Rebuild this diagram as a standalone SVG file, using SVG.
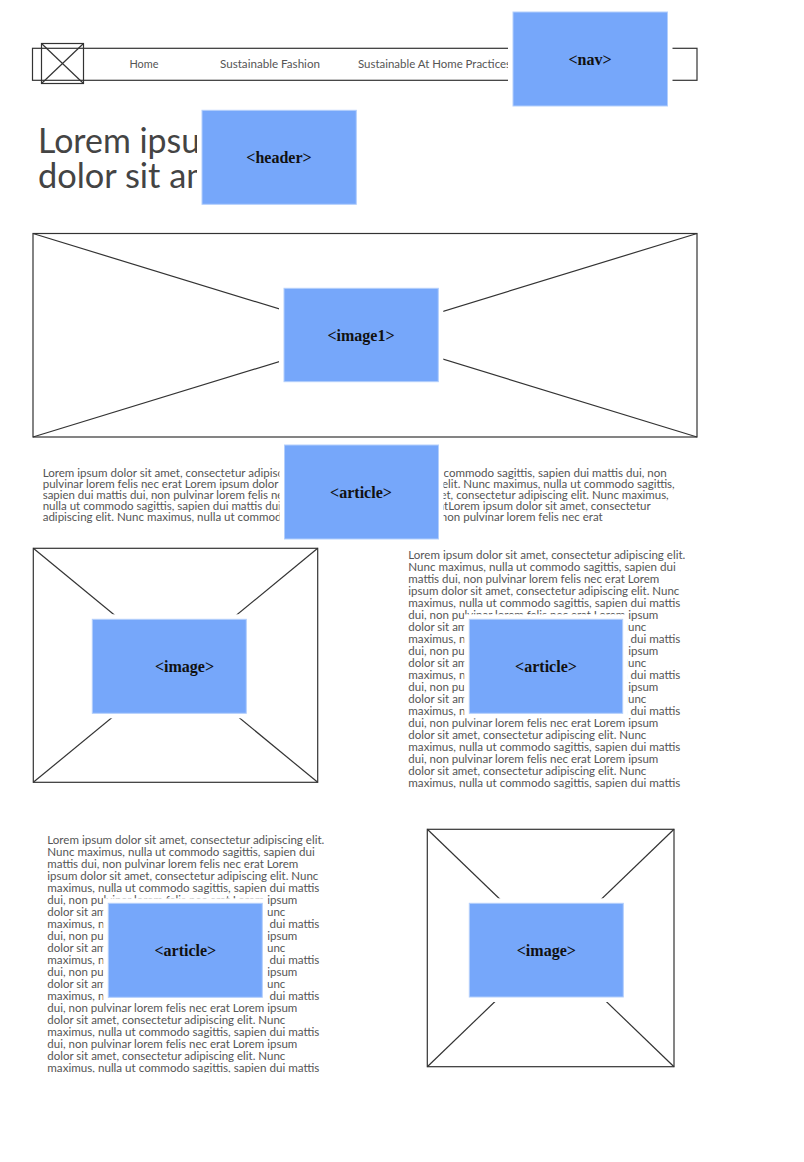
<svg xmlns="http://www.w3.org/2000/svg" width="804" height="1162" viewBox="0 0 804 1162">
<style>
.wire{fill:none;stroke:#333;stroke-width:1.2}
.halo{fill:#fff}
.box{fill:#76a7fa;stroke:#b3cffc;stroke-width:1}
.lbl{font-family:"Liberation Serif",serif;font-weight:bold;font-size:16px;fill:#111;text-anchor:middle}
.body{font-family:Lato,"Noto Sans",sans-serif;font-size:11.5px;fill:#555}
.navt{font-family:Lato,"Noto Sans",sans-serif;font-size:11px;fill:#555}
.title{font-family:Lato,"Noto Sans",sans-serif;font-size:35px;fill:#444}
</style>
<defs>
<clipPath id="clipR"><rect x="400" y="540" width="300" height="248.5"/></clipPath>
<clipPath id="clipL"><rect x="40" y="825" width="300" height="247.5"/></clipPath>
</defs>
<rect width="804" height="1162" fill="#fff"/>

<g id="navbar">
<rect class="wire" x="32.5" y="48.3" width="664.5" height="32"/>
<rect class="wire" x="41.5" y="43.5" width="42" height="40"/>
<line class="wire" x1="41.5" y1="43.5" x2="83.5" y2="83.5"/>
<line class="wire" x1="83.5" y1="43.5" x2="41.5" y2="83.5"/>
<text class="navt" x="129.4" y="68" textLength="29" lengthAdjust="spacingAndGlyphs">Home</text>
<text class="navt" x="220" y="68" textLength="100" lengthAdjust="spacingAndGlyphs">Sustainable Fashion</text>
<text class="navt" x="358" y="68" textLength="153" lengthAdjust="spacingAndGlyphs">Sustainable At Home Practices</text>
</g>

<g id="title">
<text class="title" x="38" y="153" textLength="190" lengthAdjust="spacingAndGlyphs">Lorem ipsum</text>
<text class="title" x="38" y="188.3" textLength="207" lengthAdjust="spacingAndGlyphs">dolor sit amet</text>
</g>

<g id="image1-frame">
<rect class="wire" x="33" y="233.5" width="664" height="203.5"/>
<line class="wire" x1="33" y1="233.5" x2="697" y2="437"/>
<line class="wire" x1="697" y1="233.5" x2="33" y2="437"/>
</g>

<g id="article-top-text" class="body">
<text x="42.7" y="476.5" textLength="624" lengthAdjust="spacingAndGlyphs">Lorem ipsum dolor sit amet, consectetur adipiscing elit. Nunc maximus, nulla ut commodo sagittis, sapien dui mattis dui, non</text>
<text x="42.7" y="487.5" textLength="632" lengthAdjust="spacingAndGlyphs">pulvinar lorem felis nec erat Lorem ipsum dolor sit amet, consectetur adipiscing elit. Nunc maximus, nulla ut commodo sagittis,</text>
<text x="42.7" y="498.5" textLength="626" lengthAdjust="spacingAndGlyphs">sapien dui mattis dui, non pulvinar lorem felis nec erat Lorem ipsum dolor sit amet, consectetur adipiscing elit. Nunc maximus,</text>
<text x="42.7" y="509.5" textLength="608" lengthAdjust="spacingAndGlyphs">nulla ut commodo sagittis, sapien dui mattis dui, non pulvinar lorem felis nec eratLorem ipsum dolor sit amet, consectetur</text>
<text x="42.7" y="520.5" textLength="560" lengthAdjust="spacingAndGlyphs">adipiscing elit. Nunc maximus, nulla ut commodo sagittis, sapien dui mattis dui, non pulvinar lorem felis nec erat</text>
</g>

<g id="image-left-frame">
<rect class="wire" x="33.3" y="548.3" width="284.4" height="234"/>
<line class="wire" x1="33.3" y1="548.3" x2="317.7" y2="782.3"/>
<line class="wire" x1="317.7" y1="548.3" x2="33.3" y2="782.3"/>
</g>

<g id="article-right-text" class="body" clip-path="url(#clipR)">
<text x="408.3" y="559" textLength="277" lengthAdjust="spacingAndGlyphs">Lorem ipsum dolor sit amet, consectetur adipiscing elit.</text>
<text x="408.3" y="571" textLength="267.5" lengthAdjust="spacingAndGlyphs">Nunc maximus, nulla ut commodo sagittis, sapien dui</text>
<text x="408.3" y="583" textLength="251" lengthAdjust="spacingAndGlyphs">mattis dui, non pulvinar lorem felis nec erat Lorem</text>
<text x="408.3" y="595" textLength="271" lengthAdjust="spacingAndGlyphs">ipsum dolor sit amet, consectetur adipiscing elit. Nunc</text>
<text x="408.3" y="607" textLength="272" lengthAdjust="spacingAndGlyphs">maximus, nulla ut commodo sagittis, sapien dui mattis</text>
<text x="408.3" y="619" textLength="250" lengthAdjust="spacingAndGlyphs">dui, non pulvinar lorem felis nec erat Lorem ipsum</text>
<text x="408.3" y="631" textLength="238" lengthAdjust="spacingAndGlyphs">dolor sit amet, consectetur adipiscing elit. Nunc</text>
<text x="408.3" y="643" textLength="272" lengthAdjust="spacingAndGlyphs">maximus, nulla ut commodo sagittis, sapien dui mattis</text>
<text x="408.3" y="655" textLength="250" lengthAdjust="spacingAndGlyphs">dui, non pulvinar lorem felis nec erat Lorem ipsum</text>
<text x="408.3" y="667" textLength="238" lengthAdjust="spacingAndGlyphs">dolor sit amet, consectetur adipiscing elit. Nunc</text>
<text x="408.3" y="679" textLength="272" lengthAdjust="spacingAndGlyphs">maximus, nulla ut commodo sagittis, sapien dui mattis</text>
<text x="408.3" y="691" textLength="250" lengthAdjust="spacingAndGlyphs">dui, non pulvinar lorem felis nec erat Lorem ipsum</text>
<text x="408.3" y="703" textLength="238" lengthAdjust="spacingAndGlyphs">dolor sit amet, consectetur adipiscing elit. Nunc</text>
<text x="408.3" y="715" textLength="272" lengthAdjust="spacingAndGlyphs">maximus, nulla ut commodo sagittis, sapien dui mattis</text>
<text x="408.3" y="727" textLength="250" lengthAdjust="spacingAndGlyphs">dui, non pulvinar lorem felis nec erat Lorem ipsum</text>
<text x="408.3" y="739" textLength="238" lengthAdjust="spacingAndGlyphs">dolor sit amet, consectetur adipiscing elit. Nunc</text>
<text x="408.3" y="751" textLength="272" lengthAdjust="spacingAndGlyphs">maximus, nulla ut commodo sagittis, sapien dui mattis</text>
<text x="408.3" y="763" textLength="250" lengthAdjust="spacingAndGlyphs">dui, non pulvinar lorem felis nec erat Lorem ipsum</text>
<text x="408.3" y="775" textLength="238" lengthAdjust="spacingAndGlyphs">dolor sit amet, consectetur adipiscing elit. Nunc</text>
<text x="408.3" y="787" textLength="272" lengthAdjust="spacingAndGlyphs">maximus, nulla ut commodo sagittis, sapien dui mattis</text>
</g>

<g id="article-left-text" class="body" clip-path="url(#clipL)">
<text x="47.3" y="843.5" textLength="277" lengthAdjust="spacingAndGlyphs">Lorem ipsum dolor sit amet, consectetur adipiscing elit.</text>
<text x="47.3" y="855.5" textLength="267.5" lengthAdjust="spacingAndGlyphs">Nunc maximus, nulla ut commodo sagittis, sapien dui</text>
<text x="47.3" y="867.5" textLength="251" lengthAdjust="spacingAndGlyphs">mattis dui, non pulvinar lorem felis nec erat Lorem</text>
<text x="47.3" y="879.5" textLength="271" lengthAdjust="spacingAndGlyphs">ipsum dolor sit amet, consectetur adipiscing elit. Nunc</text>
<text x="47.3" y="891.5" textLength="272" lengthAdjust="spacingAndGlyphs">maximus, nulla ut commodo sagittis, sapien dui mattis</text>
<text x="47.3" y="903.5" textLength="250" lengthAdjust="spacingAndGlyphs">dui, non pulvinar lorem felis nec erat Lorem ipsum</text>
<text x="47.3" y="915.5" textLength="238" lengthAdjust="spacingAndGlyphs">dolor sit amet, consectetur adipiscing elit. Nunc</text>
<text x="47.3" y="927.5" textLength="272" lengthAdjust="spacingAndGlyphs">maximus, nulla ut commodo sagittis, sapien dui mattis</text>
<text x="47.3" y="939.5" textLength="250" lengthAdjust="spacingAndGlyphs">dui, non pulvinar lorem felis nec erat Lorem ipsum</text>
<text x="47.3" y="951.5" textLength="238" lengthAdjust="spacingAndGlyphs">dolor sit amet, consectetur adipiscing elit. Nunc</text>
<text x="47.3" y="963.5" textLength="272" lengthAdjust="spacingAndGlyphs">maximus, nulla ut commodo sagittis, sapien dui mattis</text>
<text x="47.3" y="975.5" textLength="250" lengthAdjust="spacingAndGlyphs">dui, non pulvinar lorem felis nec erat Lorem ipsum</text>
<text x="47.3" y="987.5" textLength="238" lengthAdjust="spacingAndGlyphs">dolor sit amet, consectetur adipiscing elit. Nunc</text>
<text x="47.3" y="999.5" textLength="272" lengthAdjust="spacingAndGlyphs">maximus, nulla ut commodo sagittis, sapien dui mattis</text>
<text x="47.3" y="1011.5" textLength="250" lengthAdjust="spacingAndGlyphs">dui, non pulvinar lorem felis nec erat Lorem ipsum</text>
<text x="47.3" y="1023.5" textLength="238" lengthAdjust="spacingAndGlyphs">dolor sit amet, consectetur adipiscing elit. Nunc</text>
<text x="47.3" y="1035.5" textLength="272" lengthAdjust="spacingAndGlyphs">maximus, nulla ut commodo sagittis, sapien dui mattis</text>
<text x="47.3" y="1047.5" textLength="250" lengthAdjust="spacingAndGlyphs">dui, non pulvinar lorem felis nec erat Lorem ipsum</text>
<text x="47.3" y="1059.5" textLength="238" lengthAdjust="spacingAndGlyphs">dolor sit amet, consectetur adipiscing elit. Nunc</text>
<text x="47.3" y="1071.5" textLength="272" lengthAdjust="spacingAndGlyphs">maximus, nulla ut commodo sagittis, sapien dui mattis</text>
</g>

<g id="image-right-frame">
<rect class="wire" x="427.3" y="829.3" width="246.7" height="237.4"/>
<line class="wire" x1="427.3" y1="829.3" x2="674" y2="1066.7"/>
<line class="wire" x1="674" y1="829.3" x2="427.3" y2="1066.7"/>
</g>

<g id="connectors"></g>

<g id="node-nav">
<rect class="halo" x="508" y="7" width="164.5" height="104"/>
<rect class="box" x="513" y="12" width="154.5" height="94"/>
<text class="lbl" x="590" y="64.5">&lt;nav&gt;</text>
</g>

<g id="node-header">
<rect class="halo" x="197" y="105.3" width="164.3" height="104"/>
<rect class="box" x="202" y="110.3" width="154.3" height="94"/>
<text class="lbl" x="279" y="162.5">&lt;header&gt;</text>
</g>

<g id="node-image1">
<rect class="halo" x="279" y="283.3" width="164.3" height="103.4"/>
<rect class="box" x="284" y="288.3" width="154.3" height="93.4"/>
<text class="lbl" x="361" y="341">&lt;image1&gt;</text>
</g>

<g id="node-article-top">
<rect class="halo" x="279.5" y="440" width="164" height="104"/>
<rect class="box" x="284.5" y="445" width="154" height="94"/>
<text class="lbl" x="361" y="497.5">&lt;article&gt;</text>
</g>

<g id="node-image-left">
<rect class="halo" x="87.3" y="614.3" width="164" height="104"/>
<rect class="box" x="92.3" y="619.3" width="154" height="94"/>
<text class="lbl" x="184.5" y="672">&lt;image&gt;</text>
</g>

<g id="node-article-right">
<rect class="halo" x="464.3" y="614.3" width="163.4" height="104"/>
<rect class="box" x="469.3" y="619.3" width="153.4" height="94"/>
<text class="lbl" x="546" y="672">&lt;article&gt;</text>
</g>

<g id="node-article-left">
<rect class="halo" x="103.3" y="898.3" width="164" height="104"/>
<rect class="box" x="108.3" y="903.3" width="154" height="94"/>
<text class="lbl" x="185.3" y="955.5">&lt;article&gt;</text>
</g>

<g id="node-image-right">
<rect class="halo" x="464.3" y="898.3" width="164" height="103.7"/>
<rect class="box" x="469.3" y="903.3" width="154" height="93.7"/>
<text class="lbl" x="546.3" y="955.5">&lt;image&gt;</text>
</g>
</svg>
